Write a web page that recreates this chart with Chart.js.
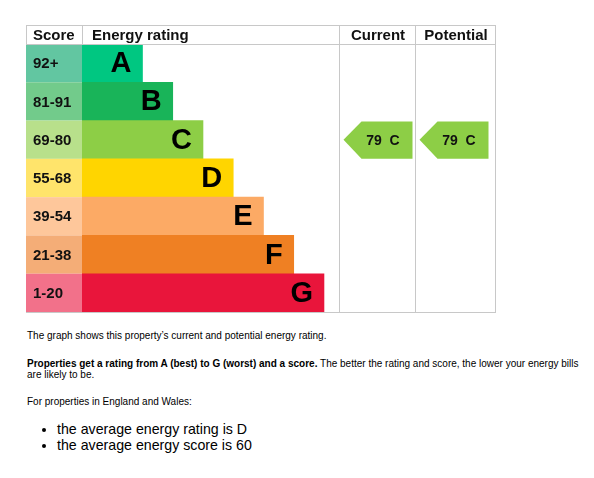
<!DOCTYPE html>
<html>
<head>
<meta charset="utf-8">
<script src="https://cdn.jsdelivr.net/npm/chart.js@4"></script>
<style>
  body { margin: 0; background: #fff; font-family: "Liberation Sans", Arial, sans-serif; color: #000; }
  #grafico { position: absolute; left: 0; top: 0; }
  .txt { position: absolute; left: 27px; margin: 0; font-size: 10px; line-height: 11px; }
  ul { position: absolute; left: 57px; top: 422px; margin: 0; padding: 0; font-size: 14.2px; line-height: 15.5px; }
</style>
</head>
<body>
<canvas id="grafico" width="594" height="320"></canvas>

<p class="txt" style="top:330px">The graph shows this property’s current and potential energy rating.</p>
<p class="txt" style="top:358px;width:556px"><b>Properties get a rating from A (best) to G (worst) and a score.</b> The better the rating and score, the lower your energy bills are likely to be.</p>
<p class="txt" style="top:396px">For properties in England and Wales:</p>
<ul>
  <li>the average energy rating is D</li>
  <li>the average energy score is 60</li>
</ul>

<script>
const ratings = ["A", "B", "C", "D", "E", "F", "G"]
const scoreBands = ["92+", "81-91", "69-80", "55-68", "39-54", "21-38", "1-20"]
const bandMin = [92, 81, 69, 55, 39, 21, 1]
const barLength = [2, 3, 4, 5, 6, 7, 8]
const barColors = ["#00c781", "#19b459", "#8dce46", "#ffd500", "#fcaa65", "#ef8023", "#e9153b"]
const bandColors = ["#62c6a1", "#72cb8b", "#b8e08b", "#ffe46b", "#fec79b", "#f4ad77", "#f2718a"]
const currentScore = 79
const potentialScore = 79

const lineColor = "#c8c8c8"
const fuente = '"Liberation Sans", Arial, sans-serif'

// banda segun puntaje
const bandaDe = (score) => bandMin.findIndex(m => score >= m)

const tablaEPC = {
  id: "tablaEPC",
  beforeDatasetsDraw(chart) {
    const ctx = chart.ctx
    const area = chart.chartArea
    const y = chart.scales.y
    const alto = (area.bottom - area.top) / ratings.length
    const izq = 26

    // columna de puntajes
    ctx.save()
    scoreBands.forEach((s, i) => {
      const yc = y.getPixelForValue(i)
      ctx.fillStyle = bandColors[i]
      ctx.fillRect(izq, yc - alto / 2, area.left - izq, alto)
      ctx.fillStyle = "#111"
      ctx.font = "bold 15px " + fuente
      ctx.textAlign = "left"
      ctx.textBaseline = "middle"
      ctx.fillText(s, izq + 7, yc + 1)
    })
    ctx.restore()
  },
  afterDatasetsDraw(chart) {
    const ctx = chart.ctx
    const area = chart.chartArea
    const y = chart.scales.y
    const alto = (area.bottom - area.top) / ratings.length
    const izq = 26, arriba = 25
    const colCur = [area.right, 416]
    const colPot = [416, 496]

    ctx.save()
    // letras sobre las barras
    const barras = chart.getDatasetMeta(0).data
    ctx.font = "bold 29px " + fuente
    ctx.fillStyle = "#000"
    ctx.textAlign = "right"
    ctx.textBaseline = "middle"
    barras.forEach((b, i) => {
      ctx.fillText(ratings[i], b.x - 11, b.y + 1)
    })

    // lineas de la tabla
    ctx.strokeStyle = lineColor
    ctx.lineWidth = 1
    ctx.beginPath()
    ctx.moveTo(izq, arriba + 0.5); ctx.lineTo(colPot[1], arriba + 0.5)
    ctx.moveTo(izq, area.top + 0.5); ctx.lineTo(colPot[1], area.top + 0.5)
    ctx.moveTo(izq, area.bottom + 0.5); ctx.lineTo(colPot[1], area.bottom + 0.5)
    ctx.moveTo(izq + 0.5, arriba); ctx.lineTo(izq + 0.5, area.top)
    ctx.moveTo(area.left + 0.5, arriba); ctx.lineTo(area.left + 0.5, area.top)
    ;[colCur[0], colPot[0], colPot[1]].forEach(x => {
      ctx.moveTo(x - 0.5, arriba); ctx.lineTo(x - 0.5, area.bottom + 1)
    })
    ctx.stroke()

    // encabezados
    ctx.fillStyle = "#111"
    ctx.font = "bold 15px " + fuente
    ctx.textBaseline = "middle"
    ctx.textAlign = "left"
    const yh = (arriba + area.top) / 2 + 1
    ctx.fillText("Score", izq + 7, yh)
    ctx.fillText("Energy rating", area.left + 10, yh)
    ctx.textAlign = "center"
    ctx.fillText("Current", (colCur[0] + colCur[1]) / 2, yh)
    ctx.fillText("Potential", (colPot[0] + colPot[1]) / 2, yh)

    // flechas actual / potencial
    const flecha = (col, score) => {
      const i = bandaDe(score)
      const yc = y.getPixelForValue(i)
      const t = yc - alto / 2 + 1, bo = yc + alto / 2
      const x0 = col[0] + 3.5, x1 = x0 + 69, punta = 18
      ctx.fillStyle = barColors[i]
      ctx.beginPath()
      ctx.moveTo(x0, yc)
      ctx.lineTo(x0 + punta, t)
      ctx.lineTo(x1, t)
      ctx.lineTo(x1, bo)
      ctx.lineTo(x0 + punta, bo)
      ctx.closePath()
      ctx.fill()
      ctx.fillStyle = "#111"
      ctx.font = "bold 14px " + fuente
      ctx.textAlign = "center"
      ctx.fillText(score + "  " + ratings[i], (x0 + punta + x1) / 2 - 4, yc + 1)
    }
    flecha(colCur, currentScore)
    flecha(colPot, potentialScore)
    ctx.restore()
  }
}

const ctx = document.getElementById("grafico")
new Chart(ctx, {
  type: "bar",
  data: {
    labels: ratings,
    datasets: [{
      data: barLength,
      backgroundColor: barColors,
      borderWidth: 0,
      barPercentage: 1,
      categoryPercentage: 1
    }]
  },
  options: {
    indexAxis: "y",
    responsive: false,
    animation: false,
    layout: { padding: { left: 82, right: 254, top: 44, bottom: 8 } },
    scales: {
      x: { display: false, min: 0, max: 8.53 },
      y: { display: false }
    },
    plugins: { legend: { display: false }, tooltip: { enabled: false } }
  },
  plugins: [tablaEPC]
})
</script>
</body>
</html>
